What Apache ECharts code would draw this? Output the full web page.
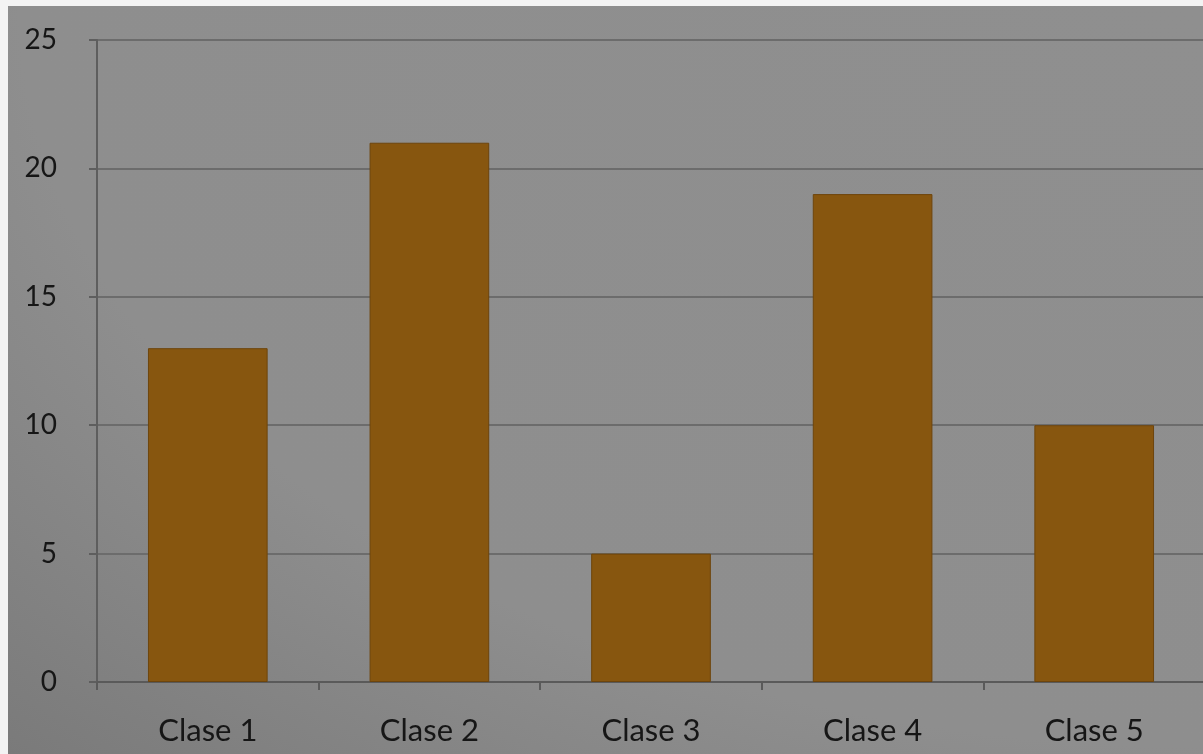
<!DOCTYPE html>
<html><head><meta charset="utf-8">
<script src="https://cdn.jsdelivr.net/npm/echarts@6/dist/echarts.min.js"></script>
<style>
html,body{margin:0;padding:0;background:#f3f3f3;overflow:hidden;width:1203px;height:754px;}
#c{position:absolute;left:8px;top:6px;width:1200px;height:748px;
background:radial-gradient(ellipse at 100% 0%, #8f8f8f 0%, #8e8e8e 70%, #7a7a7a 100%);}
</style></head>
<body><div id="c"></div>
<script>
const categories = ['Clase 1','Clase 2','Clase 3','Clase 4','Clase 5'];
const values = [13, 21, 5, 19, 10];
const yTicks = [0, 5, 10, 15, 20, 25];

const chart = echarts.init(document.getElementById('c'), null, {renderer:'canvas'});
chart.setOption({
  backgroundColor: 'transparent',
  animation: false,
  grid: {left: 89, top: 34, bottom: 72, right: 3, containLabel: false},
  xAxis: {
    type: 'category', data: categories,
    axisLine: {lineStyle: {color: '#5a5a5a', width: 2}},
    axisTick: {show: true, length: 8, lineStyle: {color: '#5a5a5a', width: 2}},
    axisLabel: {color: '#161616', fontSize: 31, fontFamily: 'Lato', margin: 33}
  },
  yAxis: {
    type: 'value', min: yTicks[0], max: yTicks[yTicks.length-1], interval: 5,
    axisLine: {show: true, lineStyle: {color: '#5e5e5e', width: 2}},
    axisTick: {show: true, length: 8, lineStyle: {color: '#5e5e5e', width: 2}},
    axisLabel: {color: '#161616', fontSize: 28, fontFamily: 'Lato', margin: 40},
    splitLine: {lineStyle: {color: '#6c6c6c', width: 2}}
  },
  series: [{
    type: 'bar', data: values, barWidth: '54%',
    itemStyle: {color: '#87560f', borderColor: '#6e450c', borderWidth: 1}
  }]
});
</script></body></html>
